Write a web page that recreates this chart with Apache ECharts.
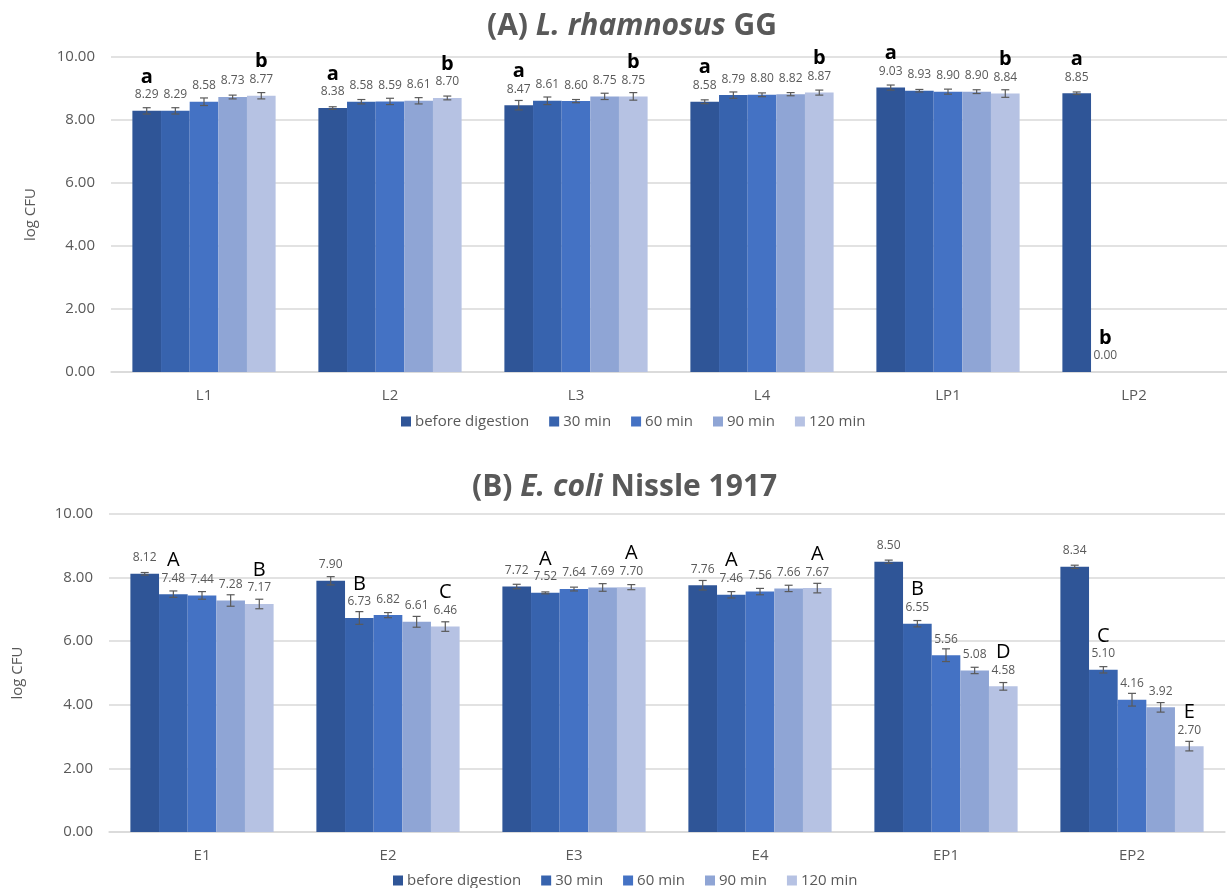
<!DOCTYPE html>
<html>
<head>
<meta charset="utf-8">
<script src="https://cdn.jsdelivr.net/npm/echarts@6/dist/echarts.min.js"></script>
<style>
html,body{margin:0;padding:0;background:#fff;}
#main{width:1227px;height:888px;}
</style>
</head>
<body>
<div id="main"></div>
<script>
// ---------- data ----------
const seriesNames = ['before digestion', '30 min', '60 min', '90 min', '120 min'];
const categoriesA = ['L1', 'L2', 'L3', 'L4', 'LP1', 'LP2'];
const categoriesB = ['E1', 'E2', 'E3', 'E4', 'EP1', 'EP2'];
const yTicks = [0, 2, 4, 6, 8, 10];

// Panel A: L. rhamnosus GG
const A_before = [8.29, 8.38, 8.47, 8.58, 9.03, 8.85];
const A_30     = [8.29, 8.58, 8.61, 8.79, 8.93, 0.00];
const A_60     = [8.58, 8.59, 8.60, 8.80, 8.90, null];
const A_90     = [8.73, 8.61, 8.75, 8.82, 8.90, null];
const A_120    = [8.77, 8.70, 8.75, 8.87, 8.84, null];
const A_before_err = [0.10, 0.04, 0.15, 0.06, 0.08, 0.04];
const A_30_err     = [0.10, 0.07, 0.12, 0.10, 0.04, null];
const A_60_err     = [0.12, 0.10, 0.05, 0.06, 0.08, null];
const A_90_err     = [0.06, 0.10, 0.10, 0.05, 0.06, null];
const A_120_err    = [0.10, 0.06, 0.12, 0.08, 0.12, null];
const A_before_let = ['a', 'a', 'a', 'a', 'a', 'a'];
const A_30_let     = ['', '', '', '', '', 'b'];
const A_60_let     = ['', '', '', '', '', ''];
const A_90_let     = ['', '', '', '', '', ''];
const A_120_let    = ['b', 'b', 'b', 'b', 'b', ''];

// Panel B: E. coli Nissle 1917
const B_before = [8.12, 7.90, 7.72, 7.76, 8.50, 8.34];
const B_30     = [7.48, 6.73, 7.52, 7.46, 6.55, 5.10];
const B_60     = [7.44, 6.82, 7.64, 7.56, 5.56, 4.16];
const B_90     = [7.28, 6.61, 7.69, 7.66, 5.08, 3.92];
const B_120    = [7.17, 6.46, 7.70, 7.67, 4.58, 2.70];
const B_before_err = [0.04, 0.13, 0.07, 0.15, 0.05, 0.05];
const B_30_err     = [0.10, 0.20, 0.03, 0.10, 0.10, 0.10];
const B_60_err     = [0.12, 0.08, 0.06, 0.10, 0.20, 0.20];
const B_90_err     = [0.18, 0.17, 0.12, 0.10, 0.10, 0.15];
const B_120_err    = [0.15, 0.15, 0.08, 0.15, 0.12, 0.15];
const B_before_let = ['', '', '', '', '', ''];
const B_30_let     = ['A', 'B', 'A', 'A', 'B', 'C'];
const B_60_let     = ['', '', '', '', '', ''];
const B_90_let     = ['', '', '', '', '', ''];
const B_120_let    = ['B', 'C', 'A', 'A', 'D', 'E'];

// ---------- styling ----------
const colors = ['#2F5597', '#3763AE', '#4472C4', '#8FA5D5', '#B6C2E3'];
const FONT = '"Open Sans", sans-serif';
const GREY = '#595959';
const CAT_GAP = 0.23;

const panels = [
  { vals: [A_before, A_30, A_60, A_90, A_120],
    errs: [A_before_err, A_30_err, A_60_err, A_90_err, A_120_err],
    lets: [A_before_let, A_30_let, A_60_let, A_90_let, A_120_let],
    letterStyle: { fontSize: 20, fontWeight: 'bold', color: '#000', lineHeight: 22 } },
  { vals: [B_before, B_30, B_60, B_90, B_120],
    errs: [B_before_err, B_30_err, B_60_err, B_90_err, B_120_err],
    lets: [B_before_let, B_30_let, B_60_let, B_90_let, B_120_let],
    letterStyle: { fontSize: 20, fontWeight: 'normal', color: '#000', lineHeight: 22 } }
];

const series = [];
panels.forEach((p, pi) => {
  p.vals.forEach((vals, si) => {
    const lets = p.lets[si];
    series.push({
      name: seriesNames[si],
      type: 'bar',
      xAxisIndex: pi, yAxisIndex: pi,
      barGap: '0%',
      barCategoryGap: (CAT_GAP * 100) + '%',
      itemStyle: { color: colors[si] },
      data: vals,
      label: {
        show: true,
        position: 'top',
        distance: 9,
        formatter: (prm) => {
          if (prm.value == null) return '';
          const v = '{v|' + Number(prm.value).toFixed(2) + '}';
          const l = lets[prm.dataIndex];
          return l ? '{l|' + l + '}\n' + v : v;
        },
        rich: {
          v: { fontFamily: FONT, fontSize: 12, color: GREY, lineHeight: 14 },
          l: Object.assign({ fontFamily: FONT }, p.letterStyle)
        }
      },
      z: 2
    });
    // error bars
    const errData = vals.map((v, i) => [i, v, p.errs[si][i]]);
    series.push({
      name: 'err' + pi + '_' + si,
      type: 'custom',
      xAxisIndex: pi, yAxisIndex: pi,
      silent: true,
      z: 5,
      encode: { x: 0, y: 1 },
      data: errData,
      renderItem: (params, api) => {
        const v = api.value(1);
        const e = api.value(2);
        if (v == null || isNaN(v) || e == null || isNaN(e)) return null;
        const idx = api.value(0);
        const c = api.coord([idx, v]);
        const band = api.size([1, 0])[0];
        const groupW = band * (1 - CAT_GAP);
        const bw = groupW / 5;
        const x = c[0] - groupW / 2 + bw * (si + 0.5);
        const yt = api.coord([idx, v + e])[1];
        const yb = api.coord([idx, v - e])[1];
        const cap = 4;
        const st = { stroke: '#5a5a5a', lineWidth: 1.2 };
        return {
          type: 'group',
          children: [
            { type: 'line', shape: { x1: x, y1: yt, x2: x, y2: yb }, style: st },
            { type: 'line', shape: { x1: x - cap, y1: yt, x2: x + cap, y2: yt }, style: st },
            { type: 'line', shape: { x1: x - cap, y1: yb, x2: x + cap, y2: yb }, style: st }
          ]
        };
      }
    });
  });
});

function yAxis(gi, gap) {
  return {
    type: 'value', gridIndex: gi,
    min: yTicks[0], max: yTicks[yTicks.length - 1], interval: yTicks[1] - yTicks[0],
    name: 'log CFU', nameLocation: 'middle', nameRotate: 90, nameGap: gap,
    nameTextStyle: { fontFamily: FONT, fontSize: 15, color: GREY },
    axisLabel: { fontFamily: FONT, fontSize: 15, color: GREY, margin: 16,
                 formatter: (v) => v.toFixed(2) },
    axisLine: { show: false }, axisTick: { show: false },
    splitLine: { lineStyle: { color: '#D9D9D9', width: 1.5 } }
  };
}
function xAxis(gi, cats) {
  return {
    type: 'category', gridIndex: gi, data: cats,
    axisTick: { show: false },
    axisLine: { lineStyle: { color: '#D9D9D9', width: 1.5 } },
    axisLabel: { fontFamily: FONT, fontSize: 15, color: GREY, margin: 16 }
  };
}
function legend(left, top) {
  return {
    data: seriesNames, left: left, top: top,
    icon: 'rect', itemWidth: 10, itemHeight: 10, itemGap: 20,
    textStyle: { fontFamily: FONT, fontSize: 15, color: GREY, padding: [0, 0, 0, -1] }
  };
}
function title(text, italic, rest, left, top) {
  return {
    text: '{b|' + text + '}{i|' + italic + '}{b|' + rest + '}',
    left: left, top: top,
    textStyle: {
      rich: {
        b: { fontFamily: FONT, fontSize: 30, fontWeight: 'bold', color: GREY },
        i: { fontFamily: FONT, fontSize: 30, fontWeight: 'bold', fontStyle: 'italic', color: GREY }
      }
    }
  };
}

const option = {
  animation: false,
  backgroundColor: '#fff',
  title: [
    title('(A) ', 'L. rhamnosus', ' GG', 482, 6),
    title('(B) ', 'E. coli', ' Nissle 1917', 467, 467)
  ],
  legend: [legend(396, 409), legend(388, 868)],
  grid: [
    { left: 111, right: 0, top: 57, height: 315 },
    { left: 109, right: 2, top: 514, height: 318 }
  ],
  xAxis: [xAxis(0, categoriesA), xAxis(1, categoriesB)],
  yAxis: [yAxis(0, 73), yAxis(1, 84)],
  series: series
};

const chart = echarts.init(document.getElementById('main'), null, { renderer: 'canvas' });
chart.setOption(option);
</script>
</body>
</html>
